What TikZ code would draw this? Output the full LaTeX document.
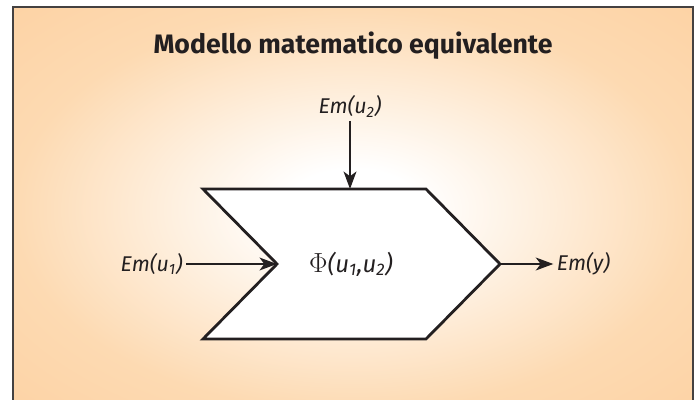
\documentclass[tikz,border=0pt]{standalone}
\usepackage{fontspec}
\setmainfont{Fira Sans}
\usepackage{tikz}
\usetikzlibrary{positioning, arrows.meta}

\definecolor{bgorange}{RGB}{249,186,120}
\definecolor{bgedge}{RGB}{252,201,147}
\definecolor{bgmid}{RGB}{253,218,178}
\definecolor{ink}{RGB}{35,31,32}
\pgfdeclareradialshading{bgglow}{\pgfpoint{0bp}{0bp}}{color(0bp)=(white); color(5bp)=(white); color(25bp)=(bgmid); color(50bp)=(bgedge); color(72bp)=(bgorange)}

\begin{document}
\begin{tikzpicture}[
  x=0.75pt, y=-0.75pt,
  node distance=0.6cm and 0.15cm,
  lbl/.style={inner sep=2.5pt, font=\fontsize{16}{18}\selectfont\itshape, text=ink},
  arr/.style={-{Stealth[length=13pt, width=9.5pt, inset=3.5pt]}, line width=2.1pt, draw=ink},
]
  \useasboundingbox (0,0) rectangle (698,399);
  % background and frame
  \shade[shading=bgglow] (13,7) rectangle (693,412);
  \draw[line width=1.4pt, draw=ink!85] (13,412) |- (693,7) -- (693,412);

  \node[font=\fontsize{20}{24}\selectfont\bfseries, text=ink] (title) at (353,46) {Modello matematico equivalente};

  % block
  \coordinate (tl) at (203,189);
  \coordinate (tr) at (426,189);
  \coordinate (tip) at (500,264);
  \coordinate (br) at (426,339);
  \coordinate (bl) at (203,339);
  \coordinate (notch) at (277,264);
  \coordinate (top) at (350,189);
  \draw[line width=2.1pt, draw=ink, fill=white] (tl) -- (tr) -- (tip) -- (br) -- (bl) -- (notch) -- cycle;
  \node[lbl, font=\fontsize{18}{20}\selectfont\itshape] (phi) at (351,264) {{\fontsize{22}{22}\selectfont$\Phi$}(u\textsubscript{1},u\textsubscript{2})};

  \node[lbl, left=68pt of notch] (u1) {Em(u\textsubscript{1})};
  \node[lbl, above=51pt of top] (u2) {Em(u\textsubscript{2})};
  \node[lbl, right=40pt of tip] (y) {Em(y)};

  \draw[arr] (u1) -- (notch);
  \draw[arr] (u2.south -| top) -- (top);
  \draw[arr] (tip) -- (y);
\end{tikzpicture}
\end{document}
